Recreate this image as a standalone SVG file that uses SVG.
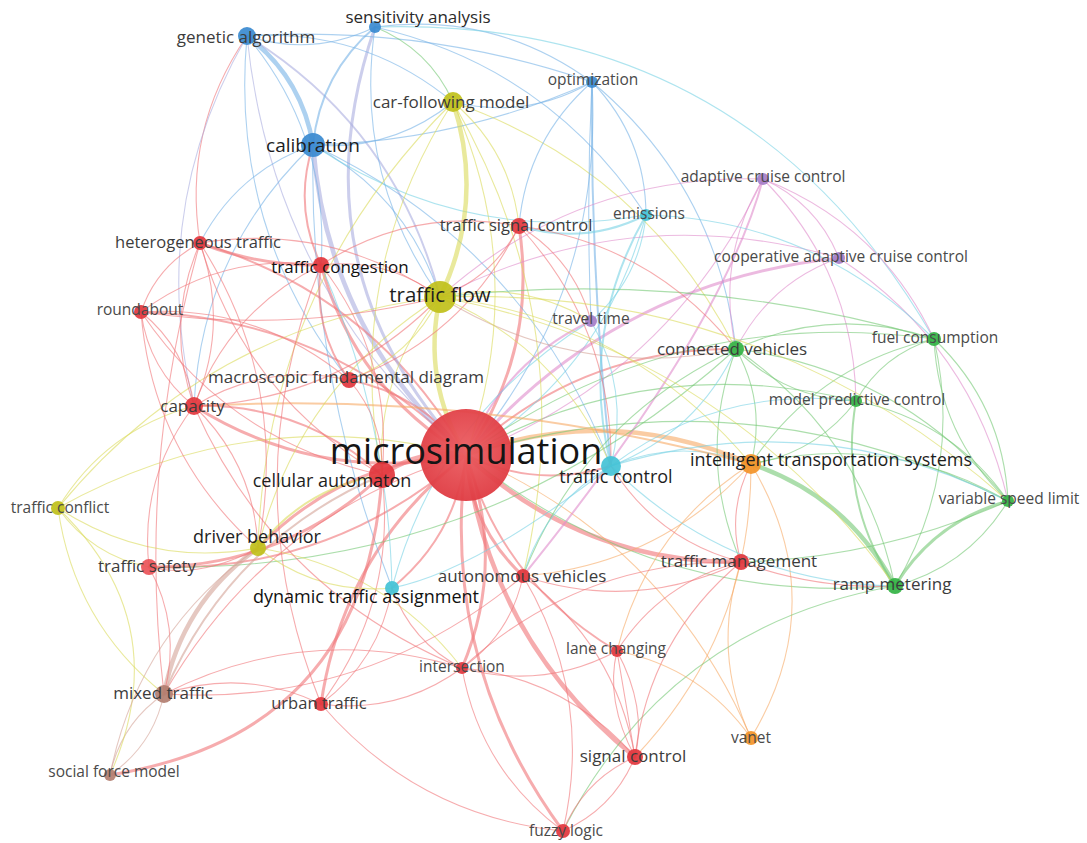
<svg xmlns="http://www.w3.org/2000/svg" width="1087" height="843" viewBox="0 0 1087 843">
<style>
#edges path{fill:none;stroke-linecap:round;stroke-opacity:.6}
.r{stroke:#f07478}.b{stroke:#76b2e6}.y{stroke:#dada5a}.g{stroke:#74c874}.p{stroke:#e08ccc}.c{stroke:#78d2e4}.o{stroke:#f6aa66}.n{stroke:#d3a497}.l{stroke:#aaaee0}
.w1{stroke-width:1.1}.w2{stroke-width:2}.w3{stroke-width:3}.w4{stroke-width:4.5}
text{font-family:"Open Sans","Noto Sans","DejaVu Sans",sans-serif;text-anchor:middle;fill:#3c3c3c}
.s{font-size:15.5px;fill:#4a4a4a}.m{font-size:17px}.L{font-size:18px;fill:#1e1e1e}
.nr{fill:#e2363d;fill-opacity:.92}.nb{fill:#3a8ad0;fill-opacity:.92}.ny{fill:#c0c01a;fill-opacity:.92}.ng{fill:#33b344;fill-opacity:.92}.np{fill:#a57ec8;fill-opacity:.92}.nc{fill:#43c2d6;fill-opacity:.92}.no{fill:#f39227;fill-opacity:.92}.nn{fill:#b27e70;fill-opacity:.92}
</style>
<defs>
<radialGradient id="gm" cx="50%" cy="45%" r="55%"><stop offset="0" stop-color="#ec5e62"/><stop offset="1" stop-color="#df3b42"/></radialGradient>
</defs>
<rect width="1087" height="843" fill="#ffffff"/>
<g id="edges">
<path class="l w4" d="M466 455Q327.5 330.6 313 145"/>
<path class="y w4" d="M466 455Q421.4 381.2 440 297"/>
<path class="r w4" d="M466 455Q420 448.2 382 475"/>
<path class="r w3" d="M466 455Q343.4 459.9 258 548"/>
<path class="r w2" d="M466 455Q329.9 574.4 149 567"/>
<path class="r w3" d="M466 455Q320.2 484.9 194 406"/>
<path class="r w2" d="M466 455Q332.1 318.5 141 312"/>
<path class="r w2" d="M466 455Q375.4 295.8 200 243"/>
<path class="r w3" d="M466 455Q355.5 389 321 265"/>
<path class="r w2" d="M466 455Q422.5 394.1 349 380"/>
<path class="r w3" d="M466 455Q538.3 351.1 519 226"/>
<path class="r w2" d="M466 455Q536.3 489.5 611 466"/>
<path class="o w4" d="M466 455Q610.3 402.5 751 464"/>
<path class="r w4" d="M466 455Q582.1 563.5 741 562"/>
<path class="r w3" d="M466 455Q470.3 526.9 523 576"/>
<path class="r w3" d="M466 455Q506.6 562.3 462 668"/>
<path class="r w3" d="M466 455Q343.7 550.5 321 704"/>
<path class="r w4" d="M466 455Q490.1 639.8 635 757"/>
<path class="r w3" d="M466 455Q439.3 662.4 563 831"/>
<path class="r w2" d="M466 455Q502.3 583.2 617 651"/>
<path class="r w2" d="M466 455Q455.6 536.3 392 588"/>
<path class="r w2" d="M466 455Q579.8 348 736 349"/>
<path class="p w2" d="M466 455Q501.7 363 591 321"/>
<path class="c w1" d="M466 455Q604 371 646 215"/>
<path class="l w1" d="M466 455Q272.7 289.3 247 36"/>
<path class="l w3" d="M466 455Q292.1 268.3 375 27"/>
<path class="y w1" d="M466 455Q530.1 275.9 453 102"/>
<path class="g w1" d="M466 455Q654.3 606.3 895 586"/>
<path class="o w1" d="M466 455Q665.1 539.5 751 738"/>
<path class="g w1" d="M466 455Q650.2 350 856 401"/>
<path class="g w1" d="M466 455Q746.2 369.6 1008 501"/>
<path class="b w1" d="M466 455Q603.6 293.7 592 82"/>
<path class="p w1" d="M466 455Q669.7 376.4 763 179"/>
<path class="p w3" d="M466 455Q613.1 282 839 258"/>
<path class="r w1" d="M466 455Q267.2 514.1 164 694"/>
<path class="g w1" d="M466 455Q676.8 303.4 934 339"/>
<path class="y w1" d="M466 455Q251.4 399.9 58 508"/>
<path class="b w4" d="M247 36Q301.8 77.3 313 145"/>
<path class="b w1" d="M247 36Q312.8 57.1 375 27"/>
<path class="b w1" d="M247 36Q363.2 27.8 453 102"/>
<path class="b w1" d="M247 36Q424.1 24.5 592 82"/>
<path class="l w2" d="M247 36Q395.7 127.9 440 297"/>
<path class="r w1" d="M247 36Q182.1 130.1 200 243"/>
<path class="l w1" d="M247 36Q146.5 210.4 194 406"/>
<path class="b w1" d="M247 36Q329.8 135.7 321 265"/>
<path class="b w1" d="M247 36Q229.2 228.4 349 380"/>
<path class="b w2" d="M375 27Q320.4 73.6 313 145"/>
<path class="g w1" d="M375 27Q429 48.9 453 102"/>
<path class="b w1" d="M375 27Q494.5 11.1 592 82"/>
<path class="b w1" d="M375 27Q353.5 175 440 297"/>
<path class="c w1" d="M375 27Q748.1 15.3 934 339"/>
<path class="b w1" d="M375 27Q548.1 66.8 646 215"/>
<path class="b w1" d="M313 145Q391.6 151.5 453 102"/>
<path class="b w1" d="M313 145Q458.8 141.4 592 82"/>
<path class="b w1" d="M313 145Q406.9 195.6 440 297"/>
<path class="r w2" d="M313 145Q293 206.6 321 265"/>
<path class="b w1" d="M313 145Q236.9 171.4 200 243"/>
<path class="b w1" d="M313 145Q526.2 245.9 611 466"/>
<path class="b w1" d="M313 145Q308.2 374.4 392 588"/>
<path class="b w1" d="M313 145Q201.3 251.7 194 406"/>
<path class="c w1" d="M313 145Q465.5 246.6 646 215"/>
<path class="y w4" d="M453 102Q485.5 202.1 440 297"/>
<path class="y w1" d="M453 102Q342.9 274.3 382 475"/>
<path class="y w1" d="M453 102Q266.3 286 258 548"/>
<path class="y w1" d="M453 102Q582.8 325 523 576"/>
<path class="y w1" d="M453 102Q510.8 150.8 519 226"/>
<path class="b w1" d="M453 102Q526.5 119.8 592 82"/>
<path class="y w1" d="M453 102Q643.9 168.9 736 349"/>
<path class="b w2" d="M592 82Q590 274 611 466"/>
<path class="b w1" d="M592 82Q586 200 591 321"/>
<path class="b w1" d="M592 82Q526.7 139.4 519 226"/>
<path class="b w1" d="M592 82Q645.6 137.7 646 215"/>
<path class="b w1" d="M592 82Q717.4 186.7 736 349"/>
<path class="p w1" d="M763 179Q816.8 203.3 839 258"/>
<path class="p w1" d="M763 179Q853.9 271.4 856 401"/>
<path class="p w1" d="M763 179Q715.5 258.6 736 349"/>
<path class="p w1" d="M763 179Q577.9 173.4 440 297"/>
<path class="p w1" d="M763 179Q880.5 224.8 934 339"/>
<path class="p w2" d="M763 179Q722.4 329.5 523 576"/>
<path class="p w1" d="M839 258Q769.3 282.9 736 349"/>
<path class="p w1" d="M839 258Q631.7 197.7 440 297"/>
<path class="p w1" d="M839 258Q972.1 345.7 1008 501"/>
<path class="c w2" d="M646 215Q578.3 333.5 611 466"/>
<path class="c w2" d="M646 215Q584.7 245.9 519 226"/>
<path class="c w1" d="M646 215Q814.8 219.4 934 339"/>
<path class="c w1" d="M646 215Q639.7 279 591 321"/>
<path class="c w1" d="M591 321Q630 389.5 611 466"/>
<path class="y w1" d="M591 321Q520.3 278.8 440 297"/>
<path class="c w1" d="M591 321Q438.1 414.7 392 588"/>
<path class="r w1" d="M591 321Q574 259.1 519 226"/>
<path class="g w1" d="M736 349Q766.5 403.5 751 464"/>
<path class="g w1" d="M736 349Q785.6 399 856 401"/>
<path class="g w1" d="M736 349Q833 304.4 934 339"/>
<path class="g w1" d="M440 297Q691.2 268.6 934 339"/>
<path class="g w1" d="M736 349Q862.9 435.7 895 586"/>
<path class="g w1" d="M736 349Q902.4 370.6 1008 501"/>
<path class="g w1" d="M736 349Q695.9 456.5 741 562"/>
<path class="g w1" d="M736 349Q584.1 419.9 523 576"/>
<path class="g w1" d="M736 349Q486.1 575.4 149 567"/>
<path class="n w1" d="M736 349Q577.6 382.2 440 297"/>
<path class="g w1" d="M934 339Q882.6 354.4 856 401"/>
<path class="g w1" d="M934 339Q1003.4 405.2 1008 501"/>
<path class="g w1" d="M934 339Q938.6 434.8 1008 501"/>
<path class="g w1" d="M934 339Q963.9 470.3 895 586"/>
<path class="g w1" d="M934 339Q817.5 364.9 751 464"/>
<path class="g w2" d="M856 401Q838.5 501.3 895 586"/>
<path class="g w1" d="M856 401Q952 420.6 1008 501"/>
<path class="g w1" d="M856 401Q816.1 453.5 751 464"/>
<path class="g w4" d="M751 464Q847.4 496.2 895 586"/>
<path class="g w1" d="M751 464Q886.9 431.1 1008 501"/>
<path class="r w1" d="M751 464Q726.4 511 741 562"/>
<path class="o w1" d="M751 464Q833.2 601 751 738"/>
<path class="c w1" d="M751 464Q680.6 437 611 466"/>
<path class="o w1" d="M751 464Q646.6 530.7 617 651"/>
<path class="o w1" d="M751 464Q751.6 633.7 635 757"/>
<path class="o w2" d="M751 464Q477.1 390.4 194 406"/>
<path class="o w1" d="M751 464Q659.4 565.6 523 576"/>
<path class="g w3" d="M1008 501Q934.5 520.9 895 586"/>
<path class="g w1" d="M1008 501Q968.5 566.1 895 586"/>
<path class="g w1" d="M1008 501Q880.6 558.2 741 562"/>
<path class="r w1" d="M895 586Q815.6 589.4 741 562"/>
<path class="g w1" d="M895 586Q667.8 625.5 563 831"/>
<path class="c w1" d="M895 586Q729 582.8 611 466"/>
<path class="r w1" d="M741 562Q661.2 581.7 617 651"/>
<path class="r w1" d="M741 562Q649 638.3 635 757"/>
<path class="r w1" d="M741 562Q634.8 612.6 523 576"/>
<path class="r w1" d="M741 562Q580.3 559.2 462 668"/>
<path class="o w1" d="M741 562Q710.8 652 751 738"/>
<path class="r w1" d="M741 562Q656.8 540 611 466"/>
<path class="o w1" d="M751 738Q701.4 667.7 617 651"/>
<path class="r w1" d="M635 757Q613.8 808.4 563 831"/>
<path class="r w1" d="M635 757Q584.2 779.6 563 831"/>
<path class="r w1" d="M635 757Q647.2 707.6 617 651"/>
<path class="r w1" d="M635 757Q604.8 700.4 617 651"/>
<path class="r w1" d="M635 757Q626 704 617 651"/>
<path class="r w1" d="M635 757Q566.3 677.9 462 668"/>
<path class="r w1" d="M635 757Q615.2 644.1 523 576"/>
<path class="r w1" d="M563 831Q479.9 769.7 462 668"/>
<path class="r w1" d="M563 831Q594 695.5 523 576"/>
<path class="r w1" d="M563 831Q416.6 815.9 321 704"/>
<path class="r w1" d="M462 668Q510.9 634.2 523 576"/>
<path class="r w1" d="M462 668Q398.7 714.2 321 704"/>
<path class="r w1" d="M462 668Q542.9 690.5 617 651"/>
<path class="y w1" d="M462 668Q384 567.2 258 548"/>
<path class="r w1" d="M462 668Q411 642 392 588"/>
<path class="r w1" d="M462 668Q307.8 621.4 164 694"/>
<path class="r w3" d="M110 775Q366 733.8 382 475"/>
<path class="r w1" d="M321 704Q244.5 667.6 164 694"/>
<path class="r w1" d="M321 704Q397.3 601.7 382 475"/>
<path class="r w1" d="M321 704Q379.7 660.2 392 588"/>
<path class="r w1" d="M321 704Q233.2 484.5 321 265"/>
<path class="n w4" d="M164 694Q181.8 602.2 258 548"/>
<path class="n w2" d="M164 694Q229.2 540.9 382 475"/>
<path class="n w1" d="M164 694Q120.8 723.7 110 775"/>
<path class="n w1" d="M164 694Q153.2 745.3 110 775"/>
<path class="r w1" d="M164 694Q181.9 627.5 149 567"/>
<path class="r w1" d="M164 694Q136.9 464.9 200 243"/>
<path class="r w1" d="M164 694Q367.1 706.8 523 576"/>
<path class="y w1" d="M110 775Q177.5 623.3 58 508"/>
<path class="n w1" d="M110 775Q138.6 631.9 258 548"/>
<path class="y w1" d="M58 508Q150 568 258 548"/>
<path class="y w1" d="M58 508Q91.7 555.7 149 567"/>
<path class="y w1" d="M58 508Q206.8 326.1 440 297"/>
<path class="y w1" d="M58 508Q105.6 429.8 194 406"/>
<path class="y w1" d="M58 508Q73.8 622.2 164 694"/>
<path class="r w1" d="M149 567Q199.7 579.3 258 548"/>
<path class="r w3" d="M149 567Q283.9 567.6 382 475"/>
<path class="y w1" d="M258 548Q298.8 386.1 440 297"/>
<path class="y w2" d="M258 548Q305.4 486.7 382 475"/>
<path class="r w1" d="M258 548Q254.4 464.2 194 406"/>
<path class="r w1" d="M258 548Q152.3 453.4 141 312"/>
<path class="y w1" d="M258 548Q317 594.8 392 588"/>
<path class="c w1" d="M392 588Q477.1 570.8 611 466"/>
<path class="c w1" d="M392 588Q388.8 419.4 321 265"/>
<path class="y w1" d="M382 475Q375.4 374.4 440 297"/>
<path class="r w2" d="M382 475Q301.8 402.9 194 406"/>
<path class="r w1" d="M382 475Q244.6 395.4 200 243"/>
<path class="r w1" d="M382 475Q393.5 357.8 321 265"/>
<path class="r w1" d="M382 475Q228.9 441.7 141 312"/>
<path class="r w1" d="M382 475Q384.5 420.9 349 380"/>
<path class="r w1" d="M194 406Q148.7 369.6 141 312"/>
<path class="r w1" d="M194 406Q186.3 348.4 141 312"/>
<path class="r w1" d="M194 406Q229.6 325.7 200 243"/>
<path class="r w1" d="M194 406Q164.4 323.3 200 243"/>
<path class="r w1" d="M194 406Q229.3 310.1 321 265"/>
<path class="r w1" d="M194 406Q338.8 400.7 440 297"/>
<path class="r w1" d="M194 406Q139.3 477.5 149 567"/>
<path class="r w1" d="M194 406Q275.6 590.6 462 668"/>
<path class="r w1" d="M194 406Q266.3 362 349 380"/>
<path class="r w1" d="M141 312Q156.7 265.7 200 243"/>
<path class="r w1" d="M141 312Q292 334.4 440 297"/>
<path class="r w1" d="M141 312Q221.6 252.5 321 265"/>
<path class="r w1" d="M141 312Q258.6 304.4 349 380"/>
<path class="r w3" d="M200 243Q258.3 266.1 321 265"/>
<path class="r w1" d="M200 243Q330.8 222 440 297"/>
<path class="r w1" d="M200 243Q290 383.9 258 548"/>
<path class="r w1" d="M321 265Q386.9 257.2 440 297"/>
<path class="r w2" d="M321 265Q312 328.1 349 380"/>
<path class="r w1" d="M321 265Q412.2 205.9 519 226"/>
<path class="y w1" d="M349 380Q411.1 356.7 440 297"/>
<path class="r w1" d="M349 380Q464.8 337 519 226"/>
<path class="r w1" d="M519 226Q493.7 277.3 440 297"/>
<path class="r w1" d="M519 226Q613 327.6 611 466"/>
<path class="r w1" d="M519 226Q652.1 244.1 736 349"/>
<path class="y w1" d="M440 297Q628.9 318.3 751 464"/>
<path class="y w1" d="M440 297Q764.8 285.4 1008 501"/>
<path class="y w1" d="M440 297Q725.3 350.5 895 586"/>
<path class="y w1" d="M440 297Q559.3 347.3 611 466"/>
<path class="c w1" d="M611 466Q545 503.4 523 576"/>
<path class="c w1" d="M611 466Q696.9 432.5 736 349"/>
<path class="c w1" d="M611 466Q720.5 384.5 856 401"/>
<path class="c w1" d="M611 466Q816.5 404.1 1008 501"/>
</g>
<g id="n-microsimulation"><circle cx="466" cy="455" r="46" fill="url(#gm)" fill-opacity=".95"/><text x="466" y="464" style="font-size:36px;fill:#151515">microsimulation</text></g>
<g id="n-calibration"><circle class="nb" cx="313" cy="145" r="12"/><text class="L" x="313" y="152" style="font-size:19px">calibration</text></g>
<g id="n-genetic-algorithm"><circle class="nb" cx="247" cy="36" r="9"/><text class="m" x="246" y="43">genetic algorithm</text></g>
<g id="n-sensitivity-analysis"><circle class="nb" cx="375" cy="27" r="6"/><text class="m" x="418" y="23" style="fill:#2a2a2a">sensitivity analysis</text></g>
<g id="n-car-following-model"><circle class="ny" cx="453" cy="102" r="10"/><text class="m" x="451" y="108">car-following model</text></g>
<g id="n-optimization"><circle class="nb" cx="592" cy="82" r="6"/><text class="s" x="593" y="85">optimization</text></g>
<g id="n-adaptive-cruise-control"><circle class="np" cx="763" cy="179" r="6"/><text class="s" x="763" y="182">adaptive cruise control</text></g>
<g id="n-emissions"><circle class="nc" cx="646" cy="215" r="6"/><text class="s" x="649" y="219">emissions</text></g>
<g id="n-cooperative-adaptive-cruise-control"><circle class="np" cx="839" cy="258" r="6"/><text class="s" x="841" y="262">cooperative adaptive cruise control</text></g>
<g id="n-travel-time"><circle class="np" cx="591" cy="321" r="6"/><text class="s" x="591" y="324">travel time</text></g>
<g id="n-connected-vehicles"><circle class="ng" cx="736" cy="349" r="8"/><text class="m" x="732" y="355">connected vehicles</text></g>
<g id="n-fuel-consumption"><circle class="ng" cx="934" cy="339" r="7"/><text class="s" x="935" y="343">fuel consumption</text></g>
<g id="n-model-predictive-control"><circle class="ng" cx="856" cy="401" r="6"/><text class="s" x="857" y="405">model predictive control</text></g>
<g id="n-intelligent-transportation-systems"><circle class="no" cx="751" cy="464" r="10"/><text class="L" x="831" y="466">intelligent transportation systems</text></g>
<g id="n-variable-speed-limit"><circle class="ng" cx="1008" cy="501" r="6"/><text class="s" x="1009" y="504">variable speed limit</text></g>
<g id="n-traffic-management"><circle class="nr" cx="741" cy="562" r="8"/><text class="m" x="739" y="567">traffic management</text></g>
<g id="n-ramp-metering"><circle class="ng" cx="895" cy="586" r="8"/><text class="m" x="892" y="590">ramp metering</text></g>
<g id="n-autonomous-vehicles"><circle class="nr" cx="523" cy="576" r="7"/><text class="m" x="522" y="582">autonomous vehicles</text></g>
<g id="n-lane-changing"><circle class="nr" cx="617" cy="651" r="6"/><text class="s" x="616" y="654">lane changing</text></g>
<g id="n-vanet"><circle class="no" cx="751" cy="738" r="7"/><text class="s" x="751" y="743">vanet</text></g>
<g id="n-signal-control"><circle class="nr" cx="635" cy="757" r="8"/><text class="m" x="633" y="762">signal control</text></g>
<g id="n-fuzzy-logic"><circle class="nr" cx="563" cy="831" r="7"/><text class="s" x="566" y="836">fuzzy logic</text></g>
<g id="n-traffic-conflict"><circle class="ny" cx="58" cy="508" r="7"/><text class="s" x="60" y="513">traffic conflict</text></g>
<g id="n-driver-behavior"><circle class="ny" cx="258" cy="548" r="8"/><text class="L" x="257" y="543">driver behavior</text></g>
<g id="n-traffic-safety"><circle class="nr" cx="149" cy="567" r="8" style="fill:#ea5358"/><text class="m" x="147" y="572">traffic safety</text></g>
<g id="n-dynamic-traffic-assignment"><circle class="nc" cx="392" cy="588" r="7"/><text class="L" x="366" y="603" style="fill:#111">dynamic traffic assignment</text></g>
<g id="n-cellular-automaton"><circle class="nr" cx="382" cy="475" r="13"/><text class="L" x="332" y="487">cellular automaton</text></g>
<g id="n-intersection"><circle class="nr" cx="462" cy="668" r="6"/><text class="s" x="462" y="672">intersection</text></g>
<g id="n-mixed-traffic"><circle class="nn" cx="164" cy="694" r="9"/><text class="m" x="163" y="699">mixed traffic</text></g>
<g id="n-urban-traffic"><circle class="nr" cx="321" cy="704" r="7"/><text class="m" x="319" y="709" style="font-size:16.5px">urban traffic</text></g>
<g id="n-social-force-model"><circle class="nn" cx="110" cy="775" r="6"/><text class="s" x="114" y="777">social force model</text></g>
<g id="n-heterogeneous-traffic"><circle class="nr" cx="200" cy="243" r="7"/><text class="m" x="198" y="248" style="font-size:16.5px">heterogeneous traffic</text></g>
<g id="n-traffic-congestion"><circle class="nr" cx="321" cy="265" r="8"/><text class="L" x="340" y="273" style="font-size:17px;fill:#111">traffic congestion</text></g>
<g id="n-roundabout"><circle class="nr" cx="141" cy="312" r="7"/><text class="s" x="140" y="315">roundabout</text></g>
<g id="n-macroscopic-fundamental-diagram"><circle class="nr" cx="349" cy="380" r="8"/><text class="m" x="346" y="383">macroscopic fundamental diagram</text></g>
<g id="n-capacity"><circle class="nr" cx="194" cy="406" r="9"/><text class="m" x="192.5" y="412">capacity</text></g>
<g id="n-traffic-signal-control"><circle class="nr" cx="519" cy="226" r="8"/><text class="m" x="516" y="231" style="font-size:16.5px">traffic signal control</text></g>
<g id="n-traffic-flow"><circle class="ny" cx="440" cy="297" r="16"/><text class="L" x="440" y="302" style="font-size:20.5px">traffic flow</text></g>
<g id="n-traffic-control"><circle class="nc" cx="611" cy="466" r="10"/><text class="L" x="616" y="483">traffic control</text></g>
</svg>
